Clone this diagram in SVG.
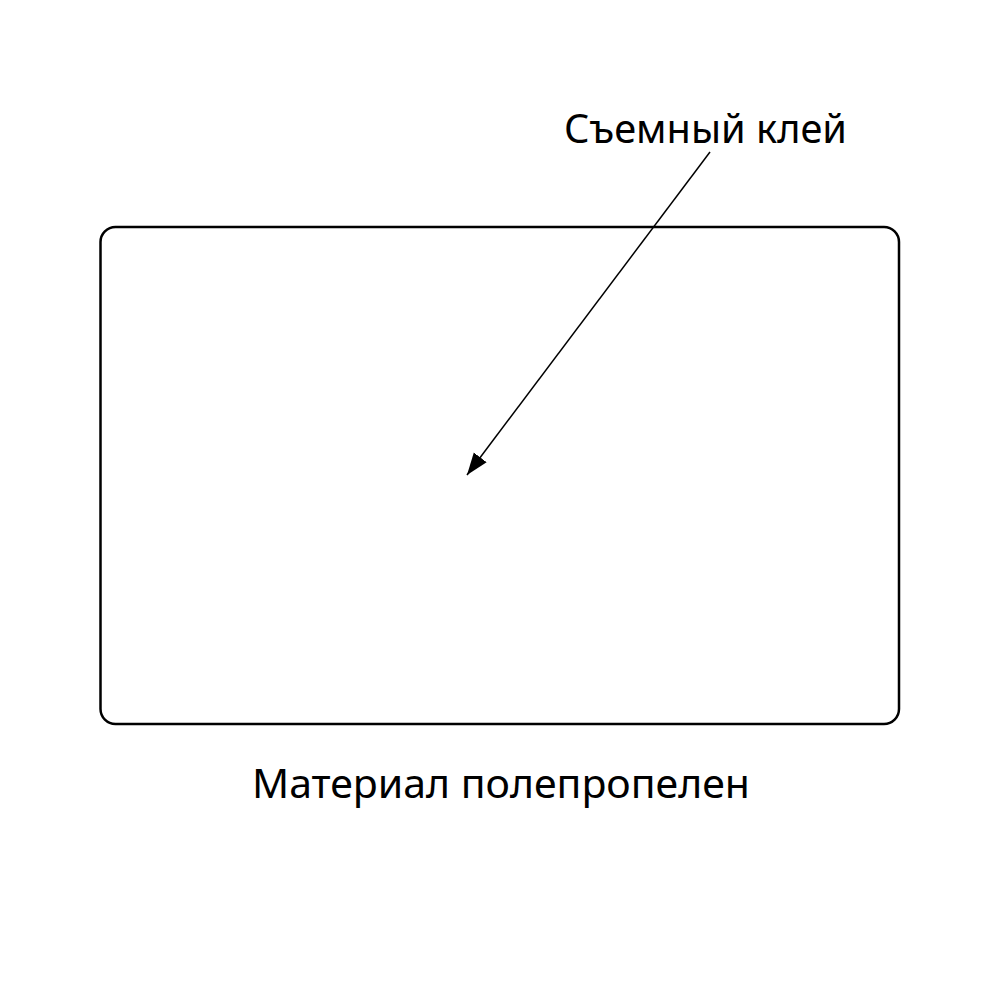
<svg xmlns="http://www.w3.org/2000/svg" width="1000" height="1000" viewBox="0 0 1000 1000">
  <style>
    .lbl { font-family: "Noto Sans", "DejaVu Sans", sans-serif; font-size: 40px; fill: #000; }
    .card { fill: #fff; stroke: #000; stroke-width: 2.5; }
    .conn { stroke: #000; stroke-width: 1.5; fill: none; }
  </style>
  <defs>
    <marker id="arrow" markerUnits="userSpaceOnUse" markerWidth="24" markerHeight="18" refX="22" refY="8" orient="auto" viewBox="0 0 24 16">
      <path d="M0,0 L22,8 L0,16 Z" fill="#000"/>
    </marker>
  </defs>
  <rect width="1000" height="1000" fill="#fff"/>
  <g id="card">
    <rect class="card" x="100.5" y="227" width="798.5" height="497" rx="15" ry="15"/>
  </g>
  <g id="label-glue">
    <text class="lbl" x="564" y="143" textLength="283" lengthAdjust="spacingAndGlyphs">Съемный клей</text>
  </g>
  <g id="label-material">
    <text class="lbl" x="252" y="798" textLength="498" lengthAdjust="spacingAndGlyphs">Материал полепропелен</text>
  </g>
  <g id="connectors">
    <line class="conn" x1="710" y1="152" x2="467" y2="475" marker-end="url(#arrow)"/>
  </g>
</svg>
